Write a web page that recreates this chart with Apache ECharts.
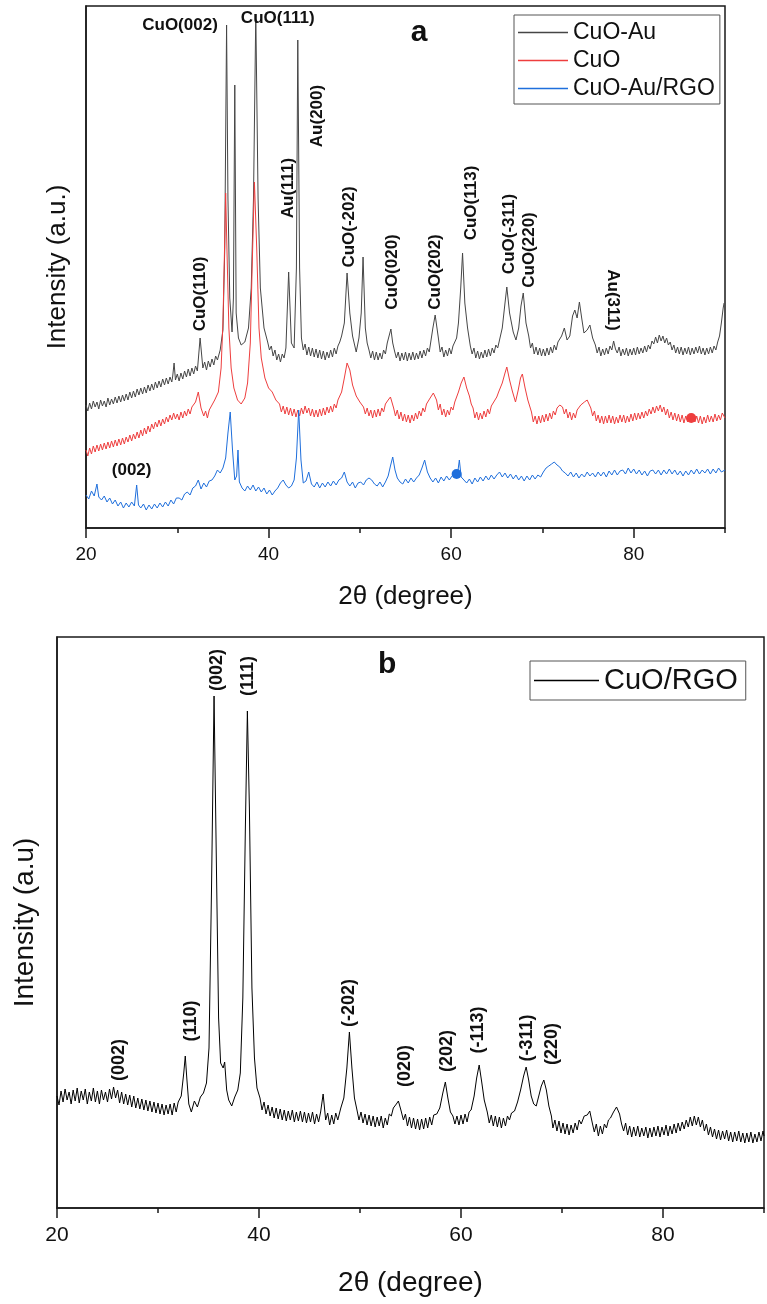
<!DOCTYPE html>
<html><head><meta charset="utf-8">
<script src="https://cdn.jsdelivr.net/npm/echarts@6/dist/echarts.min.js"></script>
<style>html,body{margin:0;padding:0;background:#fff}#c{width:767px;height:1304px}</style>
</head><body><div id="c"></div><script>
// ---------- Panel a data: [2theta (deg), intensity (a.u.)] ----------
const cuoAu = [[20,123],[20.2,117],[20.4,125],[20.6,119],[20.8,127],[21,121],[21.2,126],[21.4,119],[21.6,128],[21.8,122],[22,127],[22.2,121],[22.4,130],[22.6,123],[22.8,129],[23,124],[23.2,131],[23.4,125],[23.6,132],[23.8,126],[24,133],[24.2,127],[24.4,134],[24.6,128],[24.8,136],[25,130],[25.2,137],[25.4,131],[25.6,139],[25.8,133],[26,140],[26.2,134],[26.4,141],[26.6,135],[26.8,143],[27,137],[27.2,144],[27.4,138],[27.6,146],[27.8,140],[28,147],[28.2,141],[28.4,149],[28.6,143],[28.8,150],[29,144],[29.2,151],[29.4,146],[29.5,152],[29.65,165],[29.8,148],[30,154],[30.2,147],[30.4,155],[30.6,149],[30.8,157],[31,151],[31.2,159],[31.4,152],[31.6,160],[31.8,154],[32,162],[32.2,157],[32.5,190],[32.8,160],[33,166],[33.2,158],[33.4,167],[33.6,161],[33.8,169],[34,163],[34.2,172],[34.4,168],[34.7,178],[35,198],[35.2,280],[35.4,503],[35.55,330],[35.75,230],[36.0,196],[36.15,230],[36.3,443],[36.45,215],[36.7,190],[37,183],[37.4,186],[37.8,200],[38.1,240],[38.35,330],[38.6,514],[38.85,330],[39.1,240],[39.5,200],[39.9,186],[40.1,178],[40.3,182],[40.5,172],[40.7,178],[40.9,168],[41.1,174],[41.3,166],[41.5,174],[41.7,170],[41.9,180],[42.2,256],[42.5,185],[42.8,180],[43.05,260],[43.2,488],[43.4,260],[43.6,190],[43.8,178],[44,184],[44.2,173],[44.4,181],[44.6,172],[44.8,180],[45,171],[45.2,179],[45.4,170],[45.6,178],[45.8,169],[46,177],[46.2,168],[46.4,176],[46.6,170],[46.8,178],[47,171],[47.2,180],[47.4,174],[47.6,182],[47.8,186],[48,192],[48.3,205],[48.6,255],[48.9,215],[49.2,192],[49.6,176],[49.9,190],[50.15,215],[50.35,271],[50.6,200],[50.8,185],[51,178],[51.2,170],[51.4,177],[51.6,168],[51.8,176],[52,168],[52.2,175],[52.4,169],[52.6,178],[52.8,174],[53,185],[53.2,192],[53.4,199],[53.6,185],[53.8,177],[54,170],[54.2,176],[54.4,167],[54.6,175],[54.8,168],[55,176],[55.2,167],[55.4,175],[55.6,168],[55.8,176],[56,168],[56.2,175],[56.4,169],[56.6,177],[56.8,170],[57,178],[57.2,172],[57.4,180],[57.6,176],[57.8,188],[58,200],[58.25,213],[58.6,190],[58.8,176],[59,181],[59.2,171],[59.4,178],[59.6,172],[59.8,180],[60,174],[60.2,182],[60.4,180],[60.6,190],[60.8,205],[61.05,240],[61.25,275],[61.5,225],[61.8,200],[62.1,182],[62.3,174],[62.5,180],[62.7,170],[62.9,177],[63.1,169],[63.3,176],[63.5,170],[63.7,178],[63.9,171],[64.1,179],[64.3,172],[64.5,180],[64.7,175],[64.9,183],[65.1,180],[65.3,188],[65.6,200],[65.9,225],[66.1,241],[66.4,215],[66.8,196],[67.1,188],[67.4,200],[67.65,222],[67.9,235],[68.2,205],[68.5,192],[68.7,180],[68.9,185],[69.1,174],[69.3,181],[69.5,173],[69.7,180],[69.9,172],[70.1,179],[70.3,172],[70.5,180],[70.7,173],[70.9,181],[71.1,175],[71.3,183],[71.5,178],[71.7,186],[71.9,184],[72.1,192],[72.4,200],[72.7,188],[73,192],[73.3,212],[73.55,218],[73.8,210],[74.05,226],[74.3,210],[74.55,195],[74.9,198],[75.2,203],[75.5,190],[75.8,183],[76,175],[76.2,181],[76.4,172],[76.6,179],[76.8,173],[77,180],[77.2,174],[77.4,182],[77.6,178],[77.8,187],[78,179],[78.2,175],[78.4,181],[78.6,172],[78.8,179],[79,173],[79.2,180],[79.4,172],[79.6,179],[79.8,173],[80,180],[80.2,173],[80.4,181],[80.6,174],[80.8,180],[81,175],[81.2,182],[81.4,176],[81.6,183],[81.8,179],[82,187],[82.2,184],[82.4,191],[82.6,185],[82.8,193],[83,187],[83.2,192],[83.4,185],[83.6,190],[83.8,183],[84,186],[84.2,178],[84.4,183],[84.6,175],[84.8,181],[85,174],[85.2,181],[85.4,173],[85.6,180],[85.8,174],[86,181],[86.2,173],[86.4,180],[86.6,174],[86.8,181],[87,175],[87.2,182],[87.4,174],[87.6,180],[87.8,173],[88,180],[88.2,174],[88.4,181],[88.6,175],[88.8,182],[89,178],[89.2,186],[89.4,192],[89.6,205],[89.8,220],[89.9,225]];

const cuo = [[20,78],[20.2,72],[20.4,80],[20.6,74],[20.8,82],[21,76],[21.2,83],[21.4,77],[21.6,84],[21.8,78],[22,85],[22.2,79],[22.4,86],[22.6,80],[22.8,87],[23,81],[23.2,88],[23.4,82],[23.6,89],[23.8,83],[24,90],[24.2,84],[24.4,91],[24.6,86],[24.8,93],[25,87],[25.2,94],[25.4,89],[25.6,96],[25.8,90],[26,98],[26.2,92],[26.4,100],[26.6,94],[26.8,102],[27,96],[27.2,104],[27.4,99],[27.6,106],[27.8,101],[28,108],[28.2,102],[28.4,109],[28.6,104],[28.8,111],[29,106],[29.2,113],[29.4,108],[29.6,115],[29.8,109],[30,114],[30.2,108],[30.4,116],[30.6,110],[30.8,117],[31,112],[31.2,119],[31.4,114],[31.6,121],[31.8,119],[32,126],[32.3,136],[32.6,120],[32.9,112],[33.1,117],[33.3,110],[33.5,118],[33.7,120],[34.1,128],[34.5,136],[34.8,160],[35.0,205],[35.15,268],[35.3,335],[35.45,275],[35.65,200],[35.9,160],[36.2,140],[36.6,128],[37,124],[37.4,130],[37.7,145],[38,185],[38.2,260],[38.45,346],[38.7,280],[38.95,200],[39.2,170],[39.6,150],[40,140],[40.4,136],[40.8,128],[41.2,124],[41.4,116],[41.6,122],[41.8,114],[42,121],[42.2,113],[42.4,120],[42.6,112],[42.8,119],[43,111],[43.2,118],[43.4,112],[43.6,120],[43.8,114],[44,122],[44.2,115],[44.4,120],[44.6,112],[44.8,119],[45,111],[45.2,118],[45.4,111],[45.6,119],[45.8,112],[46,120],[46.2,113],[46.4,121],[46.6,115],[46.8,122],[47,116],[47.2,124],[47.4,120],[47.6,128],[48,136],[48.3,150],[48.6,165],[48.9,158],[49.2,143],[49.6,132],[50,126],[50.4,121],[50.6,114],[50.8,120],[51,112],[51.2,118],[51.4,110],[51.6,118],[51.8,111],[52,119],[52.2,112],[52.4,120],[52.6,116],[52.8,124],[53.1,128],[53.35,131],[53.7,120],[53.9,112],[54.1,118],[54.3,109],[54.5,116],[54.7,107],[54.9,114],[55.1,106],[55.3,113],[55.5,105],[55.7,113],[55.9,107],[56.1,115],[56.3,109],[56.5,117],[56.7,112],[56.9,120],[57.1,116],[57.3,124],[57.5,122],[57.7,130],[58.05,135],[58.4,128],[58.6,118],[58.8,124],[59,113],[59.2,119],[59.4,111],[59.6,118],[59.8,113],[60,121],[60.2,118],[60.4,126],[60.8,136],[61.1,145],[61.4,151],[61.7,140],[62,132],[62.2,124],[62.4,120],[62.6,110],[62.8,116],[63,108],[63.2,115],[63.4,109],[63.6,117],[63.8,111],[64,119],[64.2,114],[64.4,122],[64.6,120],[64.8,128],[65,131],[65.2,136],[65.6,145],[65.9,155],[66.1,161],[66.4,148],[66.7,137],[67.05,126],[67.35,138],[67.6,150],[67.8,154],[68.1,140],[68.4,128],[68.6,122],[68.8,116],[69,106],[69.2,112],[69.4,104],[69.6,112],[69.8,105],[70,113],[70.2,106],[70.4,114],[70.6,107],[70.8,115],[71,109],[71.2,117],[71.4,113],[71.6,120],[71.9,123],[72.2,121],[72.4,114],[72.6,119],[72.8,110],[73,116],[73.2,108],[73.4,115],[73.6,110],[73.8,118],[74,116],[74.2,123],[74.6,126],[74.9,128],[75.1,124],[75.3,120],[75.5,112],[75.7,117],[75.9,107],[76.1,113],[76.3,105],[76.5,112],[76.7,104],[76.9,112],[77.1,105],[77.3,113],[77.5,105],[77.7,112],[77.9,104],[78.1,111],[78.3,105],[78.5,113],[78.7,106],[78.9,113],[79.1,105],[79.3,112],[79.5,106],[79.7,114],[79.9,107],[80.1,115],[80.3,108],[80.5,115],[80.7,109],[80.9,116],[81.1,110],[81.3,117],[81.5,112],[81.7,119],[81.9,114],[82.1,121],[82.3,115],[82.5,122],[82.7,117],[82.9,123],[83.1,116],[83.3,121],[83.5,113],[83.7,119],[83.9,110],[84.1,116],[84.3,108],[84.5,115],[84.7,107],[84.9,114],[85.1,106],[85.3,113],[85.5,105],[85.7,112],[85.9,106],[86.1,113],[86.3,107],[86.5,114],[86.7,106],[86.9,112],[87.1,105],[87.3,112],[87.5,104],[87.7,111],[87.9,105],[88.1,113],[88.3,106],[88.5,112],[88.7,106],[88.9,114],[89.1,107],[89.3,113],[89.5,108],[89.7,115],[90,110]];

const cuoAuRgo = [[20,33],[20.3,29],[20.6,37],[20.9,32],[21.2,44],[21.4,31],[21.7,28],[22,32],[22.3,26],[22.6,30],[22.9,24],[23.2,28],[23.5,22],[23.8,26],[24.1,20],[24.4,25],[24.7,21],[25,26],[25.3,22],[25.55,43],[25.75,23],[26,20],[26.3,24],[26.6,18],[26.9,23],[27.2,19],[27.5,24],[27.8,20],[28.1,25],[28.4,21],[28.7,26],[29,22],[29.3,28],[29.6,24],[29.9,30],[30.2,30],[30.5,28],[30.8,34],[31.1,36],[31.4,33],[31.7,40],[32,42],[32.3,48],[32.6,39],[32.9,45],[33.2,41],[33.5,47],[33.8,48],[34.1,52],[34.4,58],[34.7,55],[35,60],[35.3,70],[35.55,95],[35.8,116],[36.05,78],[36.3,48],[36.5,52],[36.65,78],[36.8,46],[37.1,40],[37.4,37],[37.7,42],[38,38],[38.3,43],[38.6,37],[38.9,41],[39.2,36],[39.5,40],[39.8,34],[40.1,38],[40.4,33],[40.7,37],[41,40],[41.3,45],[41.6,48],[41.9,43],[42.2,40],[42.5,42],[42.8,48],[43.05,70],[43.3,118],[43.55,68],[43.8,45],[44.1,47],[44.4,56],[44.7,44],[45,41],[45.3,46],[45.6,40],[45.9,45],[46.2,41],[46.5,46],[46.8,42],[47.1,47],[47.4,43],[47.7,48],[48,50],[48.3,56],[48.6,46],[48.9,42],[49.2,46],[49.5,40],[49.8,45],[50.1,46],[50.4,43],[50.7,48],[51,50],[51.3,48],[51.6,44],[51.9,42],[52.2,46],[52.5,41],[52.8,46],[53.1,52],[53.35,62],[53.6,71],[53.85,58],[54.1,50],[54.4,46],[54.7,44],[55,49],[55.3,45],[55.6,50],[55.9,46],[56.2,50],[56.5,53],[56.8,60],[57.1,68],[57.4,56],[57.7,50],[58,46],[58.3,50],[58.6,45],[58.9,51],[59.2,47],[59.5,52],[59.8,48],[60.1,52],[60.4,55],[60.7,54],[60.9,68],[61.1,51],[61.4,48],[61.7,45],[62,49],[62.3,44],[62.6,50],[62.9,46],[63.2,51],[63.5,47],[63.8,52],[64.1,48],[64.4,53],[64.7,49],[65,53],[65.3,56],[65.6,51],[65.9,55],[66.2,50],[66.5,54],[66.8,49],[67.1,53],[67.4,48],[67.7,52],[68,47],[68.3,52],[68.6,48],[68.9,53],[69.2,49],[69.5,53],[69.8,51],[70.1,56],[70.4,60],[70.7,62],[71,64],[71.3,66],[71.6,63],[71.9,61],[72.2,57],[72.5,55],[72.8,52],[73.1,56],[73.4,51],[73.7,55],[74,50],[74.3,54],[74.6,51],[74.9,56],[75.2,52],[75.5,55],[75.8,51],[76.1,56],[76.4,52],[76.7,56],[77,51],[77.3,57],[77.6,53],[77.9,58],[78.2,53],[78.5,57],[78.8,58],[79.1,54],[79.4,60],[79.7,55],[80,59],[80.3,54],[80.6,58],[80.9,53],[81.2,57],[81.5,52],[81.8,57],[82.1,58],[82.4,54],[82.7,58],[83,53],[83.3,58],[83.6,54],[83.9,59],[84.2,54],[84.5,58],[84.8,53],[85.1,57],[85.4,52],[85.7,57],[86,53],[86.3,58],[86.6,54],[86.9,59],[87.2,54],[87.5,58],[87.8,55],[88.1,59],[88.4,54],[88.7,59],[89,55],[89.3,60],[89.6,56],[90,58]];

// dense clusters of points drawn as blobs
const cuoBlobs = [[86.3,110]];
const cuoAuRgoBlobs = [[60.6,54]];

// ---------- Panel b data ----------
const cuoRgo = [[20,112],[20.2,103],[20.4,117],[20.6,106],[20.8,119],[21,108],[21.2,116],[21.4,104],[21.6,118],[21.8,107],[22,120],[22.2,105],[22.4,117],[22.6,108],[22.8,119],[23,104],[23.2,116],[23.4,107],[23.6,120],[23.8,106],[24,117],[24.2,104],[24.4,118],[24.6,108],[24.8,116],[25,106],[25.2,119],[25.4,109],[25.6,121],[25.8,110],[26,118],[26.2,105],[26.4,116],[26.6,104],[26.8,114],[27,103],[27.2,113],[27.4,101],[27.6,112],[27.8,100],[28,110],[28.2,99],[28.4,109],[28.6,98],[28.8,108],[29,97],[29.2,107],[29.4,96],[29.6,106],[29.8,95],[30,105],[30.2,94],[30.4,104],[30.6,93],[30.8,103],[31,94],[31.2,104],[31.4,93],[31.6,105],[31.8,96],[32,106],[32.3,112],[32.55,135],[32.7,152],[32.85,130],[33.05,104],[33.3,96],[33.6,107],[33.9,101],[34.2,111],[34.5,115],[34.8,125],[35.05,160],[35.3,320],[35.55,512],[35.8,330],[36.0,190],[36.2,145],[36.45,140],[36.6,146],[36.8,118],[37.0,108],[37.3,102],[37.6,111],[37.9,118],[38.15,135],[38.4,210],[38.65,380],[38.85,497],[39.05,400],[39.3,220],[39.55,150],[39.8,120],[40.1,110],[40.3,98],[40.5,106],[40.7,94],[40.9,103],[41.1,92],[41.3,101],[41.5,90],[41.7,100],[41.9,89],[42.1,99],[42.3,88],[42.5,98],[42.7,87],[42.9,97],[43.1,88],[43.3,98],[43.5,86],[43.7,96],[43.9,87],[44.1,97],[44.3,86],[44.5,96],[44.7,85],[44.9,95],[45.1,86],[45.3,96],[45.5,84],[45.7,94],[45.9,86],[46.1,96],[46.35,114],[46.6,88],[46.8,95],[47,83],[47.2,93],[47.4,84],[47.6,95],[47.8,88],[48.1,100],[48.4,110],[48.7,140],[48.95,176],[49.2,140],[49.45,110],[49.7,98],[49.9,88],[50.1,96],[50.3,85],[50.5,94],[50.7,83],[50.9,93],[51.1,82],[51.3,92],[51.5,81],[51.7,91],[51.9,82],[52.1,92],[52.3,80],[52.5,90],[52.7,83],[52.9,94],[53.1,92],[53.3,100],[53.6,104],[53.8,107],[54.05,98],[54.3,88],[54.5,94],[54.7,82],[54.9,91],[55.1,80],[55.3,90],[55.5,79],[55.7,89],[55.9,78],[56.1,89],[56.3,79],[56.5,90],[56.7,80],[56.9,91],[57.1,83],[57.3,93],[57.6,94],[57.9,100],[58.2,115],[58.45,126],[58.7,110],[58.95,96],[59.2,92],[59.4,84],[59.6,92],[59.8,83],[60,93],[60.2,84],[60.4,94],[60.6,86],[60.8,96],[61,98],[61.3,112],[61.55,130],[61.8,143],[62.05,126],[62.3,108],[62.6,96],[62.8,85],[63,93],[63.2,82],[63.4,92],[63.6,81],[63.8,91],[64,80],[64.2,90],[64.4,82],[64.6,92],[64.8,88],[65,95],[65.3,97],[65.6,106],[65.9,118],[66.2,132],[66.45,141],[66.7,128],[66.95,112],[67.2,104],[67.45,102],[67.7,112],[67.95,122],[68.2,128],[68.45,118],[68.7,102],[68.95,92],[69.1,80],[69.3,88],[69.5,77],[69.7,87],[69.9,75],[70.1,85],[70.3,74],[70.5,84],[70.7,73],[70.9,83],[71.1,75],[71.3,85],[71.5,78],[71.7,88],[71.9,84],[72.2,92],[72.5,93],[72.75,97],[73,85],[73.2,76],[73.4,84],[73.6,72],[73.8,82],[74,74],[74.2,84],[74.4,80],[74.6,88],[74.8,90],[75.1,96],[75.4,101],[75.7,94],[75.9,84],[76.1,77],[76.3,85],[76.5,73],[76.7,82],[76.9,71],[77.1,81],[77.3,72],[77.5,82],[77.7,71],[77.9,80],[78.1,72],[78.3,81],[78.5,70],[78.7,80],[78.9,71],[79.1,81],[79.3,72],[79.5,82],[79.7,71],[79.9,81],[80.1,73],[80.3,83],[80.5,72],[80.7,82],[80.9,74],[81.1,84],[81.3,75],[81.5,85],[81.7,77],[81.9,86],[82.1,79],[82.3,88],[82.5,81],[82.7,91],[82.9,82],[83.1,92],[83.3,83],[83.5,91],[83.7,81],[83.9,88],[84.1,77],[84.3,84],[84.5,73],[84.7,81],[84.9,71],[85.1,79],[85.3,69],[85.5,78],[85.7,68],[85.9,77],[86.1,69],[86.3,78],[86.5,67],[86.7,76],[86.9,66],[87.1,76],[87.3,67],[87.5,77],[87.7,66],[87.9,75],[88.1,65],[88.3,75],[88.5,66],[88.7,76],[88.9,65],[89.1,74],[89.3,66],[89.5,76],[89.7,67],[89.9,77],[90,72]];

// ---------- Axis ticks ----------
const xMin = 20, xMax = 90, xMajor = 20, xMinor = 10;

// ---------- Peak annotations: [text, 2theta, intensity, rotation(deg)] ----------
const annotA = [
  ['CuO(002)', 30.3, 503, 0], ['CuO(111)', 41.0, 510, 0],
  ['CuO(110)', 32.5, 234, 90], ['Au(111)', 42.2, 340, 90], ['Au(200)', 45.3, 412, 90],
  ['CuO(-202)', 48.8, 301, 90], ['CuO(020)', 53.6, 256, 90], ['CuO(202)', 58.3, 256, 90],
  ['CuO(113)', 62.2, 325, 90], ['CuO(-311)', 66.4, 294, 90], ['CuO(220)', 68.6, 278, 90],
  ['Au(311)', 77.7, 228, -90], ['(002)', 25.0, 58, 0]
];
const annotB = [
  ['(002)', 35.8, 538, 90], ['(111)', 38.9, 532, 90],
  ['(002)', 26.1, 148, 90], ['(110)', 33.3, 187, 90], ['(-202)', 48.9, 205, 90],
  ['(020)', 54.5, 142, 90], ['(202)', 58.6, 157, 90], ['(-113)', 61.7, 178, 90],
  ['(-311)', 66.5, 170, 90], ['(220)', 69.0, 164, 90]
];
const panelLabels = [['a', 0, 56.5, 495], ['b', 1, 52.7, 543]];

const FONT = '"Liberation Sans", Arial, Helvetica, sans-serif';
const AX = '#1a1a1a';

function xAxes(grid, labelSize, nameSize, nameGap, margin) {
  return [
    { gridIndex: grid, type: 'value', position: 'bottom', min: xMin, max: xMax, interval: xMajor,
      axisLine: { lineStyle: { color: AX, width: 1.5 } },
      axisTick: { length: 10, lineStyle: { color: AX, width: 1.5 } },
      axisLabel: { fontSize: labelSize, color: '#111', margin: margin, fontFamily: FONT, showMaxLabel: false },
      splitLine: { show: false },
      name: '2θ (degree)', nameLocation: 'middle', nameGap: nameGap,
      nameTextStyle: { fontSize: nameSize, color: '#111', fontFamily: FONT } },
    { gridIndex: grid, type: 'value', position: 'bottom', offset: 0, min: xMin, max: xMax, interval: xMinor,
      axisLine: { show: false },
      axisTick: { length: 5, lineStyle: { color: AX, width: 1.5 } },
      axisLabel: { show: false }, splitLine: { show: false } }
  ];
}
function yAxis(grid, max, name, nameSize, nameGap) {
  return { gridIndex: grid, type: 'value', min: 0, max: max,
    axisLine: { show: true, lineStyle: { color: AX, width: 1.5 } },
    axisTick: { show: false }, axisLabel: { show: false }, splitLine: { show: false },
    name: name, nameLocation: 'middle', nameRotate: 90, nameGap: nameGap,
    nameTextStyle: { fontSize: nameSize, color: '#111', fontFamily: FONT } };
}
function line(name, data, color, xi, yi, blobs) {
  const s = { type: 'line', name: name, data: data, xAxisIndex: xi, yAxisIndex: yi,
    symbol: 'none', lineStyle: { width: 1, color: color }, itemStyle: { color: color },
    silent: true, z: 2 };
  if (blobs) s.markPoint = { symbol: 'circle', symbolSize: 10, silent: true, label: { show: false },
    itemStyle: { color: color }, data: blobs.map(b => ({ coord: b })) };
  return s;
}

const chart = echarts.init(document.getElementById('c'), null, { renderer: 'canvas' });
chart.setOption({
  animation: false,
  backgroundColor: '#fff',
  grid: [
    { left: 86, top: 6, width: 639, height: 522, show: true, borderColor: AX, borderWidth: 1.5 },
    { left: 57, top: 637, width: 707, height: 571, show: true, borderColor: AX, borderWidth: 1.5 }
  ],
  xAxis: [...xAxes(0, 19, 26, 56, 17), ...xAxes(1, 21, 28, 61, 17)],
  yAxis: [yAxis(0, 522, 'Intensity (a.u.)', 26, 15), yAxis(1, 571, 'Intensity (a.u)', 28, 18)],
  legend: [
    { data: ['CuO-Au', 'CuO', 'CuO-Au/RGO'], orient: 'vertical', left: 514, top: 15,
      padding: [6, 5, 4, 4], itemGap: 5, itemWidth: 50, itemHeight: 1.5, icon: 'rect',
      borderColor: '#555', borderWidth: 1, backgroundColor: '#fff', selectedMode: false,
      textStyle: { fontSize: 23, color: '#111', fontFamily: FONT } },
    { data: ['CuO/RGO'], orient: 'vertical', left: 530, top: 661,
      padding: [5, 8, 5, 4], itemWidth: 65, itemHeight: 1.5, icon: 'rect',
      borderColor: '#555', borderWidth: 1, backgroundColor: '#fff', selectedMode: false,
      textStyle: { fontSize: 29, color: '#111', fontFamily: FONT } }
  ],
  series: [
    line('CuO-Au', cuoAu, '#464646', 0, 0),
    line('CuO', cuo, '#ee3e3e', 0, 0, cuoBlobs),
    line('CuO-Au/RGO', cuoAuRgo, '#1f6fdc', 0, 0, cuoAuRgoBlobs),
    line('CuO/RGO', cuoRgo, '#000000', 2, 1)
  ]
});

const graphics = [];
function addText(txt, grid, x, y, rot, size) {
  const p = chart.convertToPixel({ xAxisIndex: grid * 2, yAxisIndex: grid }, [x, y]);
  graphics.push({ type: 'text', x: p[0], y: p[1], rotation: rot * Math.PI / 180, z: 10, silent: true,
    style: { text: txt, fontSize: size, fontWeight: 'bold', fontFamily: FONT, fill: '#111',
      align: 'center', verticalAlign: 'middle' } });
}
annotA.forEach(a => addText(a[0], 0, a[1], a[2], a[3], 17));
annotB.forEach(a => addText(a[0], 1, a[1], a[2], a[3], 18));
panelLabels.forEach(l => addText(l[0], l[1], l[2], l[3], 0, 30));
chart.setOption({ graphic: graphics });
</script></body></html>
